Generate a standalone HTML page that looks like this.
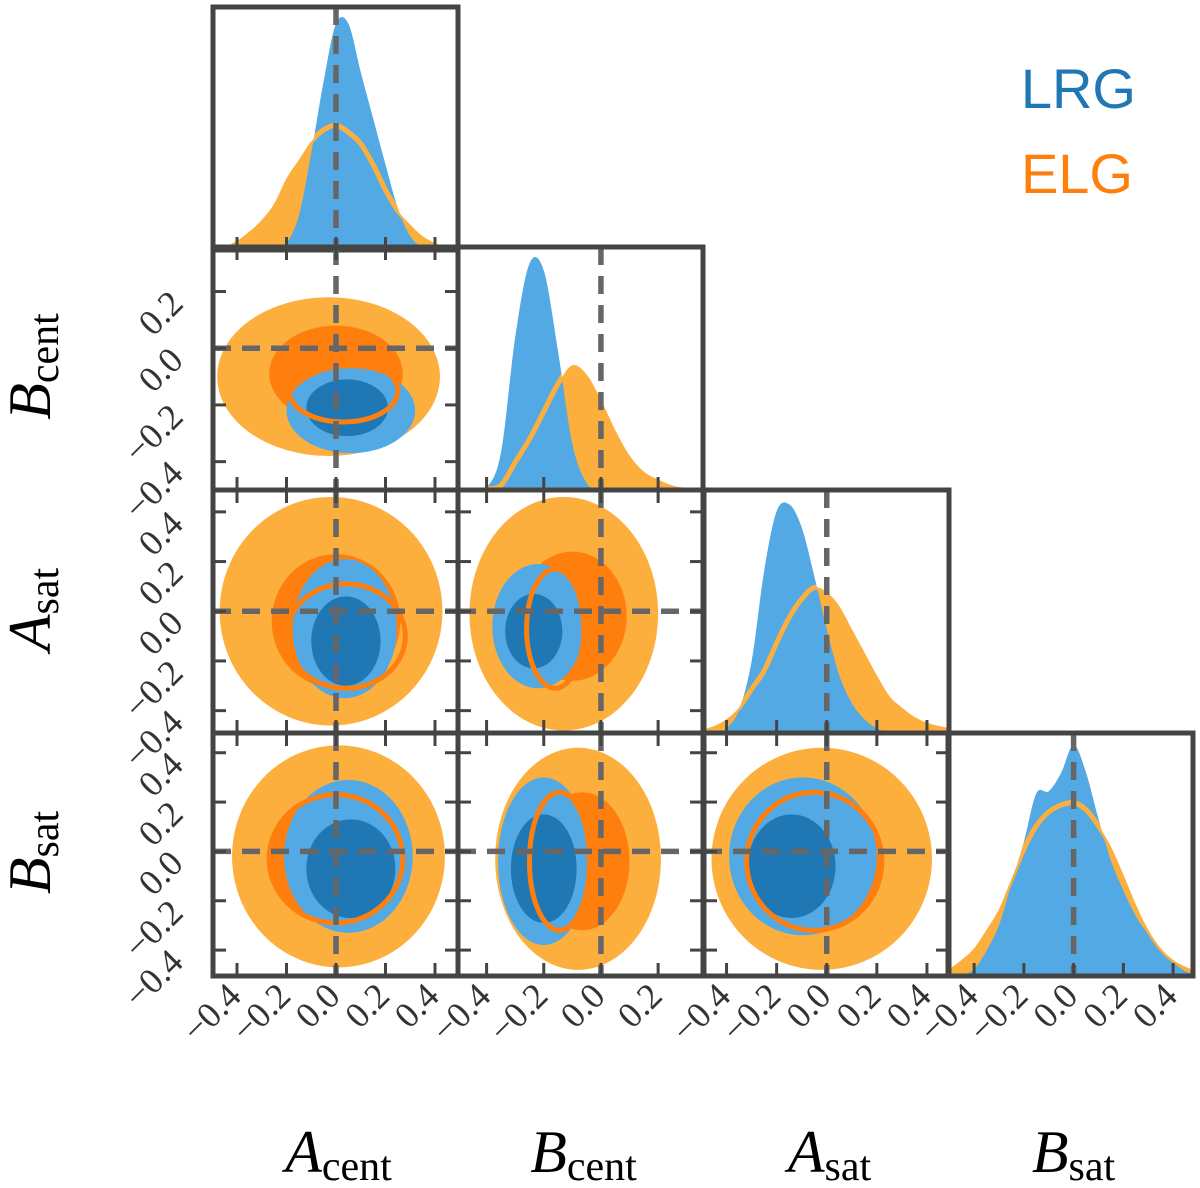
<!DOCTYPE html>
<html><head><meta charset="utf-8">
<style>
html,body{margin:0;padding:0;background:#fff;}
svg{display:block;}
</style></head>
<body>
<svg id="chart" width="1200" height="1188" viewBox="0 0 1200 1188" xmlns="http://www.w3.org/2000/svg"></svg>
<script>
// ---- data ----
const params = ["Acent","Bcent","Asat","Bsat"];
const paramLo = [-0.497,-0.5,-0.49,-0.505];
const paramHi = [0.493,0.357,0.488,0.48];
const truths = [0,0,0,0];
const ticksA = [-0.4,-0.2,0.0,0.2,0.4];
const ticksBcent = [-0.4,-0.2,0.0,0.2];
const tickLabelsA = ["\u22120.4","\u22120.2","0.0","0.2","0.4"];
const tickLabelsBcent = ["\u22120.4","\u22120.2","0.0","0.2"];
// 1D marginals (normalized density, grid step 0.05 from -0.5)
const gridStart = -0.5, gridStep = 0.05;
const lrgAcent = [0,0,0,0,0,0.005,0.03,0.15,0.42,0.73,0.98,0.98,0.77,0.57,0.37,0.18,0.06,0.01,0,0,0];
const elgAcent = [0.005,0.015,0.04,0.08,0.13,0.2,0.31,0.39,0.47,0.52,0.54,0.51,0.46,0.37,0.26,0.17,0.11,0.06,0.03,0.012,0.005];
const lrgBcent = [0,0,0.01,0.16,0.66,0.98,0.95,0.6,0.2,0.03,0,0,0,0,0,0,0,0];
const elgBcent = [0,0,0.005,0.02,0.12,0.22,0.34,0.46,0.54,0.5,0.39,0.26,0.15,0.08,0.045,0.02,0.008,0.003];
const lrgAsat = [0,0,0.02,0.1,0.31,0.7,0.96,0.99,0.89,0.68,0.45,0.25,0.13,0.06,0.02,0.005,0,0,0,0,0];
const elgAsat = [0.015,0.03,0.06,0.11,0.19,0.27,0.39,0.5,0.58,0.63,0.61,0.55,0.45,0.35,0.25,0.16,0.11,0.07,0.045,0.03,0.02];
const lrgBsat = [0,0.005,0.03,0.11,0.22,0.4,0.58,0.79,0.8,0.88,1,0.88,0.68,0.5,0.37,0.26,0.18,0.11,0.06,0.02,0.005];
const elgBsat = [0.03,0.07,0.12,0.2,0.29,0.42,0.55,0.65,0.71,0.74,0.75,0.72,0.65,0.56,0.44,0.31,0.2,0.12,0.07,0.04,0.02];
const lrgMarg = [lrgAcent,lrgBcent,lrgAsat,lrgBsat];
const elgMarg = [elgAcent,elgBcent,elgAsat,elgBsat];
// 2D contours: pairs [col,row]; ellipses [cx,cy,rx,ry] in data units
const pairs = [[0,1],[0,2],[1,2],[0,3],[1,3],[2,3]];
const elgOuter = [[-0.03,-0.1,0.45,0.28],[-0.02,0,0.45,0.46],[-0.13,-0.01,0.33,0.47],[0.01,-0.02,0.43,0.45],[-0.08,-0.03,0.29,0.45],[-0.02,-0.03,0.44,0.45]];
const elgInner = [[0,-0.09,0.27,0.17],[0,-0.04,0.26,0.27],[-0.1,-0.02,0.19,0.26],[0,-0.03,0.28,0.27],[-0.065,-0.04,0.165,0.28],[-0.05,-0.04,0.275,0.28]];
const lrgOuter = [[0.06,-0.22,0.26,0.15],[0.035,-0.07,0.21,0.28],[-0.22,-0.06,0.16,0.25],[0.05,-0.02,0.26,0.31],[-0.2,-0.04,0.16,0.34],[-0.095,-0.02,0.295,0.32]];
const lrgInner = [[0.045,-0.21,0.165,0.1],[0.04,-0.12,0.14,0.18],[-0.235,-0.08,0.1,0.15],[0.06,-0.07,0.18,0.2],[-0.2,-0.07,0.115,0.22],[-0.14,-0.06,0.175,0.21]];
const elgRing = [[0.03,-0.15,0.22,0.11],[0.04,-0.1,0.24,0.21],[-0.16,-0.07,0.1,0.24],[0.0,-0.03,0.27,0.26],[-0.145,-0.04,0.105,0.28],[-0.05,-0.04,0.27,0.28]];
const axisTitles = ["A","B","A","B"];
const axisSubs = ["cent","cent","sat","sat"];

// ---- layout ----
const colX = [213,458,704,948], rowY = [7,247,490,733];
const PW = 245, PH = 243, PEAK = 231;
const C = {lo:"#fdaf3d", hi:"#ff7f0e", lb:"#52a9e4", db:"#1f77b4", ax:"#444444", tr:"#666666"};
const NS = "http://www.w3.org/2000/svg";
const svg = document.getElementById("chart");
function mk(tag, attrs, parent){const e=document.createElementNS(NS,tag);for(const k in attrs)e.setAttribute(k,attrs[k]);(parent||svg).appendChild(e);return e;}
function sx(i,v){return colX[i]+(v-paramLo[i])/(paramHi[i]-paramLo[i])*PW;}
function sy(j,v){return rowY[j]+PH-(v-paramLo[j])/(paramHi[j]-paramLo[j])*PH;}
function ticksOf(i){return i===1?ticksBcent:ticksA;}
function labelsOf(i){return i===1?tickLabelsBcent:tickLabelsA;}
function smoothPath(pts){
  let d="M"+pts[0][0]+","+pts[0][1];
  for(let k=0;k<pts.length-1;k++){
    const p0=pts[Math.max(k-1,0)],p1=pts[k],p2=pts[k+1],p3=pts[Math.min(k+2,pts.length-1)];
    const c1=[p1[0]+(p2[0]-p0[0])/6,p1[1]+(p2[1]-p0[1])/6];
    const c2=[p2[0]-(p3[0]-p1[0])/6,p2[1]-(p3[1]-p1[1])/6];
    d+=" C"+c1[0]+","+c1[1]+" "+c2[0]+","+c2[1]+" "+p2[0]+","+p2[1];
  }
  return d;
}
const defs = mk("defs",{});
function clipFor(i,j){
  const id="clip"+i+"_"+j;
  const cp=mk("clipPath",{id:id},defs);
  mk("rect",{x:colX[i],y:rowY[j],width:PW,height:PH},cp);
  return "url(#"+id+")";
}
function truthLines(g,i,j,vertOnly){
  const ln=mk("line",{x1:sx(i,truths[i]),x2:sx(i,truths[i]),y1:rowY[j],y2:rowY[j]+PH,stroke:C.tr,"stroke-width":5.5,"stroke-dasharray":"18 11"},g);
  
  
  if(!vertOnly){
    const lh=mk("line",{x1:colX[i],x2:colX[i]+PW,y1:sy(j,truths[j]),y2:sy(j,truths[j]),stroke:C.tr,"stroke-width":5.5,"stroke-dasharray":"18 11"},g);
    
    
  }
}
function frameTicks(i,j,diag){
  const g=mk("g",{});
  
  
  const TL=13;
  ticksOf(i).forEach(t=>{
    const x=sx(i,t);
    mk("line",{x1:x,x2:x,y1:rowY[j]+PH,y2:rowY[j]+PH-TL,stroke:C.ax,"stroke-width":3},g);
    if(!diag) mk("line",{x1:x,x2:x,y1:rowY[j],y2:rowY[j]+TL,stroke:C.ax,"stroke-width":3},g);
  });
  if(!diag) ticksOf(j).forEach(t=>{
    const y=sy(j,t);
    mk("line",{x1:colX[i],x2:colX[i]+TL,y1:y,y2:y,stroke:C.ax,"stroke-width":3},g);
    mk("line",{x1:colX[i]+PW,x2:colX[i]+PW-TL,y1:y,y2:y,stroke:C.ax,"stroke-width":3},g);
  });
  mk("rect",{x:colX[i],y:rowY[j],width:PW,height:PH,fill:"none",stroke:C.ax,"stroke-width":5},g);
}
// diagonal panels
for(let i=0;i<4;i++){
  const g=mk("g",{"clip-path":clipFor(i,i)});
  
  
  const base=rowY[i]+PH;
  const toPts=arr=>arr.map((d,k)=>[sx(i,gridStart+k*gridStep),base-d*PEAK]);
  const ep=toPts(elgMarg[i]), lp=toPts(lrgMarg[i]);
  const close=p=>smoothPath(p)+" L"+p[p.length-1][0]+","+base+" L"+p[0][0]+","+base+" Z";
  const ef=mk("path",{d:close(ep),fill:C.lo},g);
  
  
  const lf=mk("path",{d:close(lp),fill:C.lb},g);
  
  
  const cp=mk("clipPath",{id:"under"+i},defs);
  mk("path",{d:close(lp)},cp);
  const el=mk("path",{d:smoothPath(ep),fill:"none",stroke:C.lo,"stroke-width":5,"clip-path":"url(#under"+i+")"},g);
  
  
  truthLines(g,i,i,true);
  frameTicks(i,i,true);
}
// 2D panels
function ell(g,i,j,e,attrs,name){
  const cx=sx(i,e[0]),cy=sy(j,e[1]);
  const rx=Math.abs(sx(i,e[0]+e[2])-cx),ry=Math.abs(sy(j,e[1]+e[3])-cy);
  const a=Object.assign({cx:cx,cy:cy,rx:rx,ry:ry},attrs);
  const el=mk("ellipse",a,g);
  
  
}
pairs.forEach((p,k)=>{
  const i=p[0],j=p[1];
  const g=mk("g",{"clip-path":clipFor(i,j)});
  
  
  ell(g,i,j,elgOuter[k],{fill:C.lo},'elg-outer-contour');
  ell(g,i,j,elgInner[k],{fill:C.hi},'elg-inner-contour');
  ell(g,i,j,lrgOuter[k],{fill:C.lb},'lrg-outer-contour');
  ell(g,i,j,lrgInner[k],{fill:C.db},'lrg-inner-contour');
  ell(g,i,j,elgRing[k],{fill:"none",stroke:C.hi,"stroke-width":5},'elg-contour-line');
  truthLines(g,i,j,false);
  frameTicks(i,j,false);
});
// tick labels
const FONT='"Liberation Serif", "DejaVu Serif", serif';
for(let i=0;i<4;i++){
  ticksOf(i).forEach((t,k)=>{
    const x=sx(i,t)+6,y=998;
    const tx=mk("text",{x:x,y:y,"text-anchor":"end",transform:"rotate(-45 "+x+" "+y+")","font-family":FONT,"font-size":36,fill:"#333"});
    tx.textContent=labelsOf(i)[k];
    
    
  });
}
for(let j=1;j<4;j++){
  ticksOf(j).forEach((t,k)=>{
    const x=185,y=sy(j,t)+14;
    const tx=mk("text",{x:x,y:y,"text-anchor":"end",transform:"rotate(-45 "+x+" "+y+")","font-family":FONT,"font-size":36,fill:"#333"});
    tx.textContent=labelsOf(j)[k];
    
    
  });
}
// axis titles
for(let i=0;i<4;i++){
  const tx=mk("text",{x:colX[i]+PW/2+3,y:1172,"text-anchor":"middle","font-family":FONT,"font-size":60,fill:"#000"});
  tx.innerHTML='<tspan font-style="italic">'+axisTitles[i]+'</tspan><tspan font-size="42" dy="8">'+axisSubs[i]+'</tspan>';
  
  
}
for(let j=1;j<4;j++){
  const x=50,y=rowY[j]+PH/2-2;
  const tx=mk("text",{x:x,y:y,"text-anchor":"middle",transform:"rotate(-90 "+x+" "+y+")","font-family":FONT,"font-size":60,fill:"#000"});
  tx.innerHTML='<tspan font-style="italic">'+axisTitles[j]+'</tspan><tspan font-size="42" dy="8">'+axisSubs[j]+'</tspan>';
  
  
}
// legend
const l1=mk("text",{x:1136,y:108,"text-anchor":"end","font-family":'"Liberation Sans", sans-serif',"font-size":56,fill:C.db});
l1.textContent="LRG";


const l2=mk("text",{x:1133,y:193,"text-anchor":"end","font-family":'"Liberation Sans", sans-serif',"font-size":56,fill:C.hi});
l2.textContent="ELG";


</script>
</body></html>
